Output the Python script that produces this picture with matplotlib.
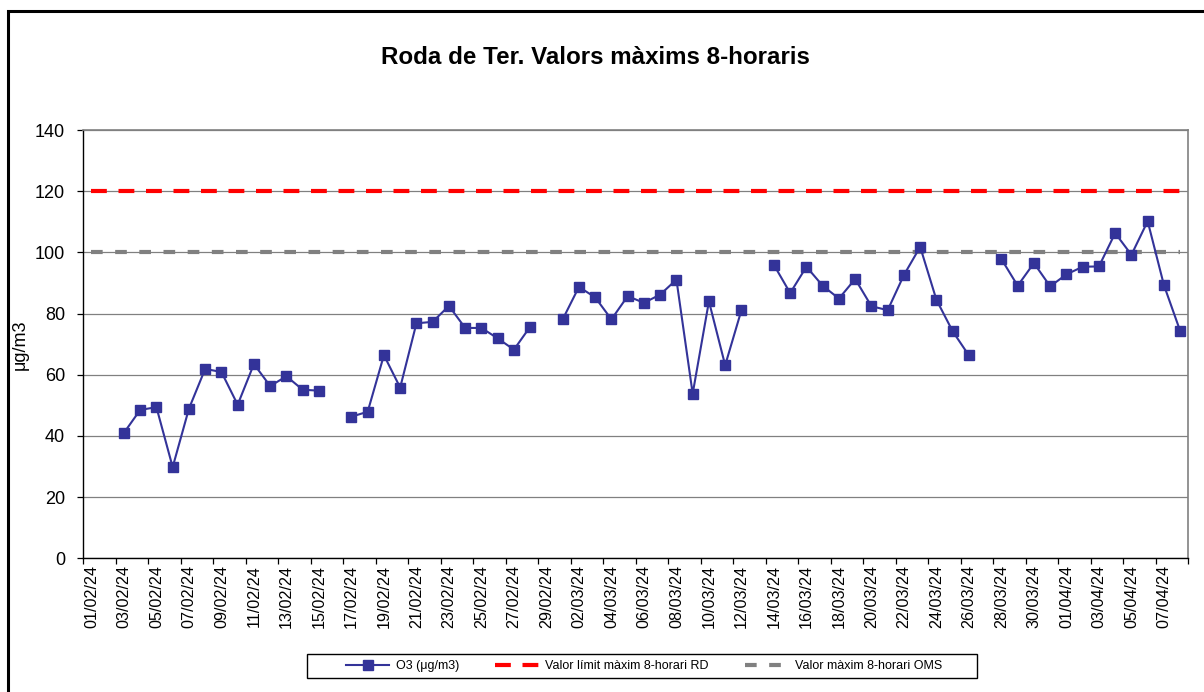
import matplotlib.pyplot as plt
import numpy as np
from matplotlib.patches import Rectangle

plt.rcParams['font.family'] = ['Liberation Sans', 'DejaVu Sans']

nan = np.nan

# daily 8h max O3, 01/02/24 .. 08/04/24 (gaps = no data)
o3 = [nan, nan, 41.0, 48.5, 49.4, 29.8, 48.9, 61.9, 60.9, 50.2,
      63.5, 56.3, 59.5, 55.1, 54.8, nan, 46.3, 47.9, 66.4, 55.8,
      76.8, 77.3, 82.5, 75.3, 75.3, 71.9, 68.2, 75.7, nan, 78.1,
      88.7, 85.3, 78.1, 85.7, 83.5, 86.2, 91.1, 53.8, 84.0, 63.1,
      81.1, nan, 95.9, 86.7, 95.3, 89.1, 84.9, 91.3, 82.4, 81.1,
      92.6, 101.8, 84.5, 74.2, 66.3, nan, 97.8, 89.1, 96.5, 88.9,
      92.8, 95.3, 95.4, 106.3, 99.2, 110.2, 89.3, 74.3]

limit_rd = 120
limit_oms = 100

day_labels = ["01/02/24", "03/02/24", "05/02/24", "07/02/24", "09/02/24",
              "11/02/24", "13/02/24", "15/02/24", "17/02/24", "19/02/24",
              "21/02/24", "23/02/24", "25/02/24", "27/02/24", "29/02/24",
              "02/03/24", "04/03/24", "06/03/24", "08/03/24", "10/03/24",
              "12/03/24", "14/03/24", "16/03/24", "18/03/24", "20/03/24",
              "22/03/24", "24/03/24", "26/03/24", "28/03/24", "30/03/24",
              "01/04/24", "03/04/24", "05/04/24", "07/04/24"]

W, H = 1204, 692
x = np.arange(len(o3))

fig = plt.figure(figsize=(W / 100, H / 100), dpi=100)
ax = fig.add_axes([83.3 / W, 1 - 558.3 / H, 1105 / W, 428.3 / H])

l_rd, = ax.plot(x, [limit_rd] * len(x), color="#ff0000", lw=3,
                dashes=(3.8, 2.8), zorder=3)
l_oms, = ax.plot(x, [limit_oms] * len(x), color="#808080", lw=3,
                 dashes=(2.8, 3.0), zorder=3)
l_o3, = ax.plot(x, o3, color="#333399", lw=1.5, marker="s", ms=6.8,
                mfc="#333399", mec="#333399", zorder=4)

ax.set_xlim(-0.5, len(o3) - 0.5)
ax.set_ylim(0, 140)
ax.set_yticks(range(0, 141, 20))
ax.yaxis.grid(True, color="#808080", lw=0.9)
ax.set_axisbelow(True)

ax.set_xticks(x[::2])
ax.set_xticklabels(day_labels, rotation=90)
ax.set_xticks(np.arange(-0.5, len(o3), 2), minor=True)
ax.tick_params(axis="x", which="major", length=0, pad=5, labelsize=11.6)
ax.tick_params(axis="x", which="minor", length=4, width=0.9, direction="out")
ax.tick_params(axis="y", length=4, width=0.9, pad=9, labelsize=13)

for side in ["left", "bottom"]:
    ax.spines[side].set_color("black")
    ax.spines[side].set_linewidth(1)
for side in ["top", "right"]:
    ax.spines[side].set_color("#808080")
    ax.spines[side].set_linewidth(1.2)

fig.text(595 / W, 1 - 57 / H, "Roda de Ter. Valors màxims 8-horaris",
         fontsize=17.4, fontweight="bold", ha="center", va="center")
fig.text(20 / W, 1 - 345 / H, "μg/m3", fontsize=13, rotation=90,
         ha="center", va="center")

fig.legend([l_o3, l_rd, l_oms],
           ["O3 (μg/m3)", "Valor límit màxim 8-horari RD",
            "Valor màxim 8-horari OMS"],
           loc="center", bbox_to_anchor=(644 / W, 1 - 666 / H), ncol=3,
           frameon=False, fontsize=9, handlelength=3.5, handletextpad=0.5,
           columnspacing=2.9)
fig.add_artist(Rectangle((307 / W, 1 - 678 / H), 670 / W, 24 / H,
                         transform=fig.transFigure, fill=False,
                         ec="black", lw=1))

# chart area frame
fig.add_artist(Rectangle((8 / W, -0.1), 2, 1 - 10.7 / H + 0.1,
                         transform=fig.transFigure, fill=False,
                         ec="black", lw=2.2, clip_on=False))

fig.savefig("out.png", dpi=100)
plt.close()
